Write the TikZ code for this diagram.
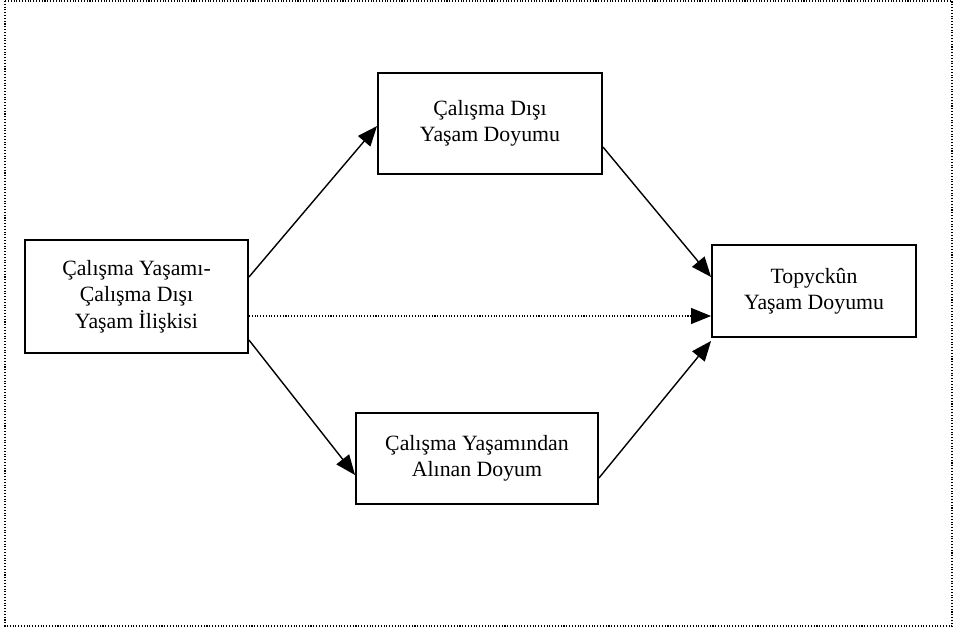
\documentclass[tikz,border=0pt]{standalone}
\usepackage{fontspec}
\setmainfont{Liberation Serif}
\usetikzlibrary{arrows.meta, calc}

\begin{document}
\begin{tikzpicture}[
  x=0.02cm, y=-0.02cm,
  box/.style={rectangle, draw, line width=1.1pt, align=center, font=\fontsize{12.4}{15}\selectfont, inner sep=2pt},
  arrow/.style={-{Triangle[length=4mm, width=3.2mm]}, line width=0.8pt},
  darrow/.style={-{Triangle[length=4mm, width=3.2mm]}, line width=0.6pt, densely dotted},
]
  \useasboundingbox (0,0) rectangle (957,633);
  % outer frame
  \draw[densely dotted, line width=0.6pt] (5,1) rectangle (952,626);

  % boxes
  \node[box, minimum width=4.46cm, minimum height=2.26cm] (iliski) at (136.5,296.5) {Çalışma Yaşamı-\\Çalışma Dışı\\Yaşam İlişkisi};
  \node[box, minimum width=4.48cm, minimum height=2.02cm] (disi) at (490,123.5) {Çalışma Dışı\\Yaşam Doyumu};
  \node[box, minimum width=4.84cm, minimum height=1.82cm] (isdoyum) at (477,458.5) {Çalışma Yaşamından\\Alınan Doyum};
  \node[box, minimum width=4.08cm, minimum height=1.84cm] (genel) at (814,291) {Topyckûn\\Yaşam Doyumu};

  % connectors
  \draw[arrow] ([yshift=0.39cm]iliski.east) -- ([yshift=-0.05cm]disi.west);
  \draw[arrow] ([yshift=-0.47cm]disi.east) -- ([yshift=0.28cm]genel.west);
  \coordinate (dotstart) at ([yshift=-0.39cm]iliski.east);
  \draw[darrow] (dotstart) -- (dotstart -| genel.west);
  \draw[arrow] ([yshift=-0.87cm]iliski.east) -- ([yshift=-0.33cm]isdoyum.west);
  \draw[arrow] ([yshift=-0.39cm]isdoyum.east) -- ([yshift=-0.06cm]genel.south west);
\end{tikzpicture}
\end{document}
